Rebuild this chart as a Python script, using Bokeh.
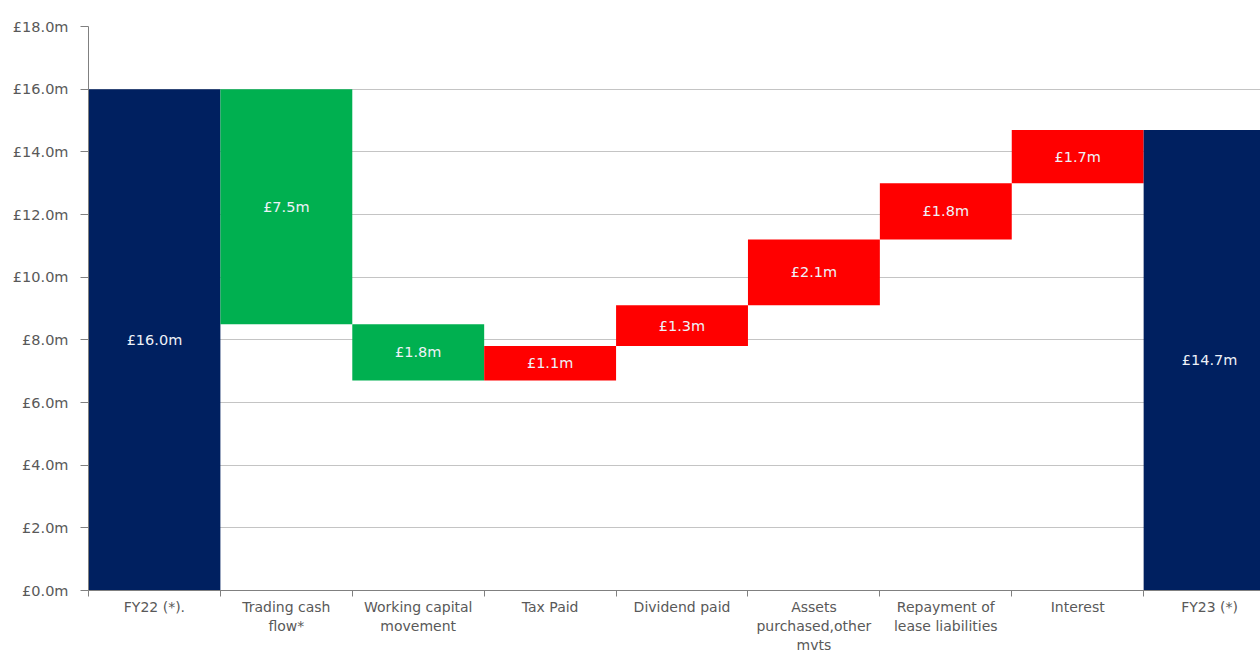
from bokeh.plotting import figure
from bokeh.models import Range1d, FixedTicker, ColumnDataSource, CustomJSTickFormatter
from bokeh.embed import file_html
from bokeh.resources import INLINE
from bokeh.core.properties import value

categories = ["FY22 (*).", "Trading cash\nflow*", "Working capital\nmovement", "Tax Paid",
              "Dividend paid", "Assets\npurchased,other\nmvts", "Repayment of\nlease liabilities",
              "Interest", "FY23 (*)"]
bottoms = [0.0, 8.5, 6.7, 6.7, 7.8, 9.1, 11.2, 13.0, 0.0]
tops = [16.0, 16.0, 8.5, 7.8, 9.1, 11.2, 13.0, 14.7, 14.7]
labels = ["£16.0m", "£7.5m", "£1.8m", "£1.1m", "£1.3m", "£2.1m", "£1.8m", "£1.7m", "£14.7m"]
colors = ["#002060", "#00b050", "#00b050", "#ff0000", "#ff0000", "#ff0000", "#ff0000", "#ff0000", "#002060"]
y_ticks = [0, 2, 4, 6, 8, 10, 12, 14, 16, 18]

FONT = "DejaVu Sans"
n = len(categories)
centers = [i + 0.5 for i in range(n)]
mids = [(b + t) / 2 for b, t in zip(bottoms, tops)]

src = ColumnDataSource(dict(x=centers, bottom=bottoms, top=tops, color=colors, label=labels, mid=mids))

p = figure(width=1260, height=655, output_backend="svg", toolbar_location=None,
           x_range=Range1d(0, 8.886), y_range=Range1d(0, 18),
           min_border_left=88, min_border_right=0, min_border_top=26, min_border_bottom=65)
p.outline_line_color = None
p.background_fill_color = "white"

p.vbar(x="x", width=1.0, bottom="bottom", top="top", color="color", source=src, line_color=None)
p.text(x="x", y="mid", text="label", source=src, text_align="center", text_baseline="middle",
       text_color="#eef2f8", text_font=value(FONT), text_font_size="14.5px")

p.xgrid.grid_line_color = None
p.ygrid.grid_line_color = "#c4c4c4"
p.ygrid.ticker = FixedTicker(ticks=y_ticks)

p.yaxis.ticker = FixedTicker(ticks=y_ticks)
p.yaxis.formatter = CustomJSTickFormatter(code="return '£' + tick.toFixed(1) + 'm';")
p.yaxis.axis_line_color = "#808080"
p.yaxis.major_tick_line_color = "#808080"
p.yaxis.major_tick_out = 8
p.yaxis.major_tick_in = 0
p.yaxis.minor_tick_line_color = None
p.yaxis.major_label_text_font = FONT
p.yaxis.major_label_text_font_size = "14.5px"
p.yaxis.major_label_text_color = "#595959"
p.yaxis.major_label_standoff = 12

p.xaxis.ticker = FixedTicker(ticks=centers, minor_ticks=[float(i) for i in range(n + 1)])
p.xaxis.major_label_overrides = {c: lab for c, lab in zip(centers, categories)}
p.xaxis.axis_line_color = "#808080"
p.xaxis.major_tick_line_color = None
p.xaxis.major_tick_out = 0
p.xaxis.major_tick_in = 0
p.xaxis.minor_tick_line_color = "#808080"
p.xaxis.minor_tick_out = 6
p.xaxis.minor_tick_in = 0
p.xaxis.major_label_text_font = FONT
p.xaxis.major_label_text_font_size = "14px"
p.xaxis.major_label_text_color = "#595959"
p.xaxis.major_label_standoff = 2

open("out.html", "w").write(file_html(p, INLINE))
